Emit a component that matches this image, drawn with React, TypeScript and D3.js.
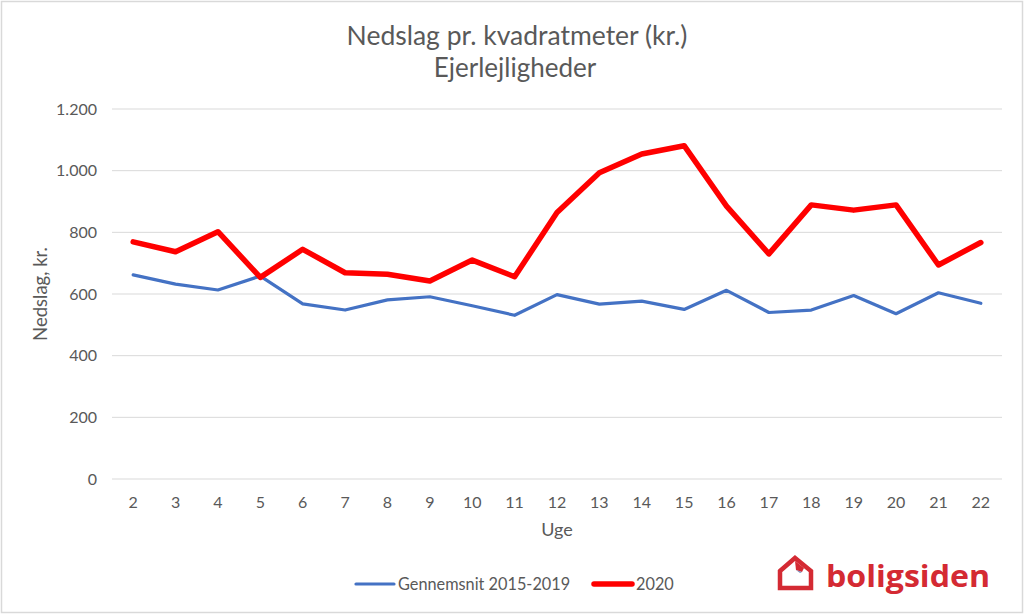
import { useEffect, useRef } from "react";
import * as d3 from "d3";

const weeks = [2, 3, 4, 5, 6, 7, 8, 9, 10, 11, 12, 13, 14, 15, 16, 17, 18, 19, 20, 21, 22];
const avg2015to2019 = [662, 632, 613, 658, 568, 548, 581, 591, 562, 531, 598, 567, 577, 550, 612, 540, 548, 595, 536, 604, 570];
const values2020 = [769, 737, 802, 654, 745, 669, 664, 642, 710, 656, 864, 993, 1054, 1081, 885, 730, 889, 872, 889, 694, 767];
const yTicks = [0, 200, 400, 600, 800, 1000, 1200];

const seriesNames = ["Gennemsnit 2015-2019", "2020"];
const seriesColors = ["#4472C4", "#FF0000"];

const W = 1024;
const H = 614;
const FONT = "Lato, 'Open Sans', sans-serif";
const TEXT = "#595959";

const App: React.FC = () => {
    const svgRef = useRef<SVGSVGElement | null>(null);

    useEffect(() => {
        if (!svgRef.current) return;
        const svg = d3.select(svgRef.current);
        svg.selectAll("*").remove();

        const m = { top: 109, right: 22, bottom: 135, left: 112 };
        const iw = W - m.left - m.right;
        const ih = H - m.top - m.bottom;

        // outer frame
        svg.append("rect")
            .attr("x", 1.5).attr("y", 1.5)
            .attr("width", W - 3).attr("height", H - 3)
            .attr("fill", "#fff").attr("stroke", "#d9d9d9").attr("stroke-width", 1.5);

        // titles
        svg.append("text")
            .attr("x", 517).attr("y", 45)
            .attr("text-anchor", "middle")
            .style("font-family", FONT).style("font-size", "26.5px").style("fill", TEXT)
            .text("Nedslag pr. kvadratmeter (kr.)");
        svg.append("text")
            .attr("x", 515).attr("y", 77)
            .attr("text-anchor", "middle")
            .style("font-family", FONT).style("font-size", "26px").style("fill", TEXT)
            .text("Ejerlejligheder");

        const x = d3.scaleBand<number>().domain(weeks).range([0, iw]);
        const y = d3.scaleLinear().domain([0, 1200]).range([ih, 0]);
        const cx = (d: number) => (x(d) ?? 0) + x.bandwidth() / 2;

        const g = svg.append("g").attr("transform", `translate(${m.left},${m.top})`);

        // gridlines + y labels
        g.selectAll(".grid")
            .data(yTicks)
            .enter()
            .append("line")
            .attr("x1", 0).attr("x2", iw)
            .attr("y1", d => y(d)).attr("y2", d => y(d))
            .attr("stroke", "#d9d9d9").attr("stroke-width", 1);

        const fmt = d3.formatLocale({ decimal: ",", thousands: ".", grouping: [3], currency: ["", " kr."] }).format(",d");
        g.selectAll(".ylab")
            .data(yTicks)
            .enter()
            .append("text")
            .attr("x", -15).attr("y", d => y(d))
            .attr("dy", "0.35em")
            .attr("text-anchor", "end")
            .style("font-family", FONT).style("font-size", "16px").style("fill", TEXT)
            .text(d => fmt(d));

        // x labels
        g.selectAll(".xlab")
            .data(weeks)
            .enter()
            .append("text")
            .attr("x", d => cx(d)).attr("y", ih + 29)
            .attr("text-anchor", "middle")
            .style("font-family", FONT).style("font-size", "16px").style("fill", TEXT)
            .text(d => d);

        // axis titles
        svg.append("text")
            .attr("x", 557).attr("y", 536)
            .attr("text-anchor", "middle")
            .style("font-family", FONT).style("font-size", "18px").style("fill", TEXT)
            .text("Uge");
        svg.append("text")
            .attr("transform", "translate(47,294) rotate(-90)")
            .attr("text-anchor", "middle")
            .style("font-family", FONT).style("font-size", "18.5px").style("fill", TEXT)
            .text("Nedslag, kr.");

        // lines
        const line = d3.line<number>()
            .x((_, i) => cx(weeks[i]))
            .y(d => y(d));

        g.append("path")
            .datum(avg2015to2019)
            .attr("d", line)
            .attr("fill", "none")
            .attr("stroke", seriesColors[0])
            .attr("stroke-width", 3.2)
            .attr("stroke-linejoin", "round")
            .attr("stroke-linecap", "round");

        g.append("path")
            .datum(values2020)
            .attr("d", line)
            .attr("fill", "none")
            .attr("stroke", seriesColors[1])
            .attr("stroke-width", 5.5)
            .attr("stroke-linejoin", "round")
            .attr("stroke-linecap", "round");

        // legend
        const legend = svg.append("g").attr("transform", "translate(0,584)");
        const legendX = [356, 594];
        seriesNames.forEach((name, i) => {
            legend.append("line")
                .attr("x1", legendX[i]).attr("x2", legendX[i] + 38)
                .attr("y1", 0).attr("y2", 0)
                .attr("stroke", seriesColors[i])
                .attr("stroke-width", i === 0 ? 3.2 : 5.5)
                .attr("stroke-linecap", "round");
            legend.append("text")
                .attr("x", legendX[i] + 42).attr("y", 0)
                .attr("dy", "0.35em")
                .style("font-family", FONT).style("font-size", "16.3px").style("fill", TEXT)
                .text(name);
        });

        // boligsiden logo
        const logo = svg.append("g").attr("transform", "translate(778,556)");
        const red = "#D42A33";
        logo.append("path")
            .attr("d", "M2,15 L17,2 L33,15 L33,32 L2,32 Z")
            .attr("fill", "none")
            .attr("stroke", red)
            .attr("stroke-width", 4.5)
            .attr("stroke-linejoin", "miter");
        logo.append("path")
            .attr("d", "M17,5 L26,12 L24,16 L18,14 Z")
            .attr("fill", red);
        logo.append("path")
            .attr("d", "M18,14 L24,16 L22,17 Z")
            .attr("fill", "#7b86b5");
        svg.append("text")
            .attr("x", 826).attr("y", 587)
            .style("font-family", "'Open Sans', Lato, sans-serif")
            .style("font-size", "31px")
            .style("font-weight", "bold")
            .style("fill", red)
            .attr("textLength", 164)
            .attr("lengthAdjust", "spacingAndGlyphs")
            .text("boligsiden");
    }, []);

    return (
        <svg ref={svgRef} width={W} height={H} viewBox={`0 0 ${W} ${H}`}
            style={{ display: "block", position: "absolute", left: 0, top: 0 }} />
    );
};

export default App;
